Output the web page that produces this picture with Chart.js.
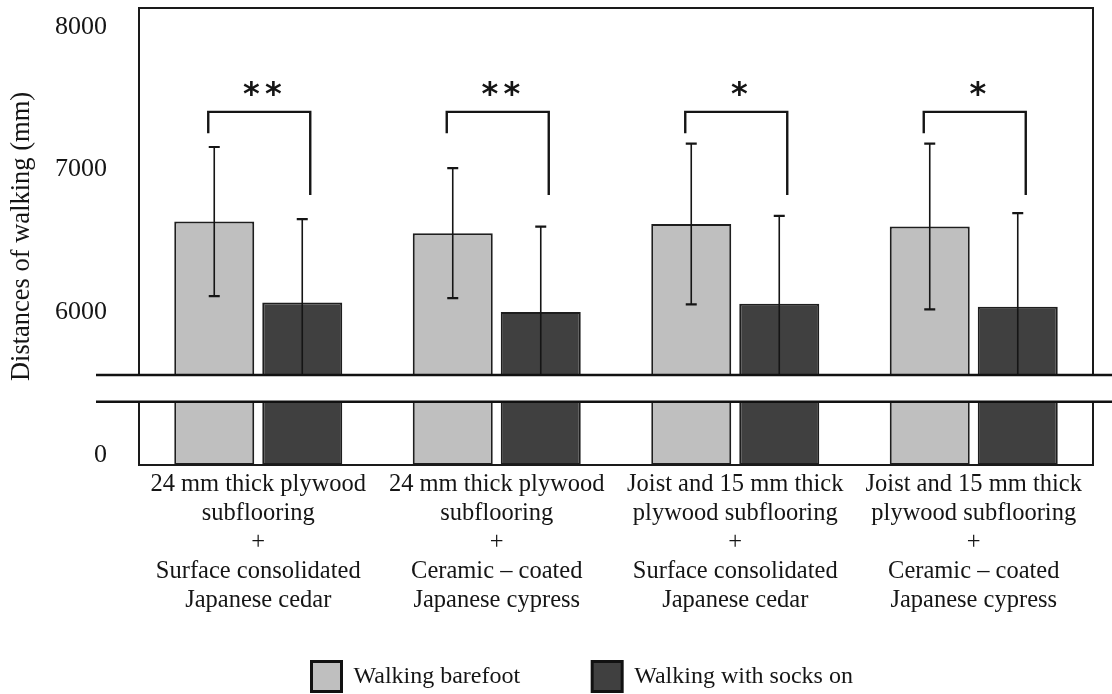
<!DOCTYPE html>
<html>
<head>
<meta charset="utf-8">
<script src="https://cdn.jsdelivr.net/npm/chart.js@4.4.1/dist/chart.umd.min.js"></script>
<style>
  html, body { margin: 0; padding: 0; background: #ffffff; }
  #c { display: block; }
</style>
</head>
<body>
<canvas id="c" width="1112" height="694"></canvas>
<script>
// ---- data ----
const categories = [
  ['24 mm thick plywood', 'subflooring', '+', 'Surface consolidated', 'Japanese cedar'],
  ['24 mm thick plywood', 'subflooring', '+', 'Ceramic \u2013 coated', 'Japanese cypress'],
  ['Joist and 15 mm thick', 'plywood subflooring', '+', 'Surface consolidated', 'Japanese cedar'],
  ['Joist and 15 mm thick', 'plywood subflooring', '+', 'Ceramic \u2013 coated', 'Japanese cypress']
];
const seriesNames = ['Walking barefoot', 'Walking with socks on'];
const barefootMean = [6579, 6497, 6561, 6544];
const barefootSD = [524, 457, 565, 582];
const socksMean = [6010, 5943, 6001, 5980];
const socksSD = [586, 600, 618, 658];
const significance = ['**', '**', '*', '*'];
const yTickValues = [0, 6000, 7000, 8000];

// ---- look ----
const SERIF = "'Liberation Serif', 'Times New Roman', serif";
const INK = '#151515';
const bracketSpec = { top: 7350, leftEnd: 7200, rightEnd: 6765, markCenter: 7527, halfWidth: 51, shift: 1 };
const legendSpec = { padding: 72, firstBoxX: 311.5, boxTop: 661.5, boxSize: 30 };

// Linear scale with an axis break: a short segment near zero at the bottom,
// a gap, then the main segment for the upper value range.
class BrokenLinearScale extends Chart.LinearScale {
  static id = 'brokenLinear';
  static defaults = {};
  segments() {
    const b = this.options.broken;
    const h = this.bottom - this.top;
    const lowTop = this.bottom - h * b.lowerFrac;
    const upBottom = lowTop - h * b.gapFrac;
    return { b, lowTop, upBottom };
  }
  getPixelForValue(value) {
    const { b, lowTop, upBottom } = this.segments();
    if (value <= b.lowerMax) {
      return this.bottom - (value - this.min) / (b.lowerMax - this.min) * (this.bottom - lowTop);
    }
    if (value >= b.upperMin) {
      return upBottom - (value - b.upperMin) / (this.max - b.upperMin) * (upBottom - this.top);
    }
    return lowTop - (value - b.lowerMax) / (b.upperMin - b.lowerMax) * (lowTop - upBottom);
  }
  getValueForPixel(pixel) {
    const { b, lowTop, upBottom } = this.segments();
    if (pixel >= lowTop) {
      return this.min + (this.bottom - pixel) / (this.bottom - lowTop) * (b.lowerMax - this.min);
    }
    if (pixel <= upBottom) {
      return b.upperMin + (upBottom - pixel) / (upBottom - this.top) * (this.max - b.upperMin);
    }
    return b.lowerMax + (lowTop - pixel) / (lowTop - upBottom) * (b.upperMin - b.lowerMax);
  }
  getPixelForTick(index) {
    const v = this.ticks[index].value;
    const b = this.options.broken;
    return this.getPixelForValue(v) + (v <= b.lowerMax ? b.labelShift.lower : b.labelShift.upper);
  }
}
Chart.register(BrokenLinearScale);

// Error bars, frame, significance brackets and the break band.
const overlayPlugin = {
  id: 'overlay',
  afterLayout(chart) {
    // place the legend row under the category labels
    const lg = chart.legend;
    if (!lg || !lg.lineWidths) return;
    const p = legendSpec.padding;
    const x1 = (lg.left + p + lg.right - lg.lineWidths[0]) / 2;
    const dx = legendSpec.firstBoxX - x1;
    lg.left += dx;
    lg.right += dx;
    lg.top = legendSpec.boxTop - p;
    lg.bottom = Math.min(chart.height, legendSpec.boxTop + legendSpec.boxSize + 4);
    lg.height = lg.bottom - lg.top;
  },
  afterDatasetsDraw(chart) {
    const { ctx, chartArea: a, scales: { x, y } } = chart;
    const spreads = [barefootSD, socksSD];
    ctx.save();
    ctx.strokeStyle = INK;
    ctx.lineCap = 'butt';

    chart.data.datasets.forEach((ds, di) => {
      const meta = chart.getDatasetMeta(di);
      meta.data.forEach((bar, i) => {
        const m = ds.data[i];
        const s = spreads[di][i];
        const yt = y.getPixelForValue(m + s);
        const yb = y.getPixelForValue(m - s);
        ctx.lineWidth = 1.6;
        ctx.beginPath();
        ctx.moveTo(bar.x, yt);
        ctx.lineTo(bar.x, yb);
        ctx.stroke();
        ctx.lineWidth = 2.2;
        ctx.beginPath();
        ctx.moveTo(bar.x - 5.5, yt); ctx.lineTo(bar.x + 5.5, yt);
        ctx.moveTo(bar.x - 5.5, yb); ctx.lineTo(bar.x + 5.5, yb);
        ctx.stroke();
      });
    });

    // plot frame
    ctx.lineWidth = 2;
    ctx.strokeStyle = '#1a1a1a';
    ctx.strokeRect(a.left, a.top, a.right - a.left, a.bottom - a.top);

    // significance brackets
    ctx.strokeStyle = INK;
    ctx.lineWidth = 2.4;
    ctx.fillStyle = INK;
    const starSize = 32;
    ctx.font = "bold " + starSize + "px 'DejaVu Sans', sans-serif";
    ctx.textAlign = 'center';
    ctx.textBaseline = 'alphabetic';
    significance.forEach((mark, i) => {
      const cx = x.getPixelForValue(i) + bracketSpec.shift;
      const l = cx - bracketSpec.halfWidth, r = cx + bracketSpec.halfWidth;
      ctx.beginPath();
      ctx.moveTo(l, y.getPixelForValue(bracketSpec.leftEnd));
      ctx.lineTo(l, y.getPixelForValue(bracketSpec.top));
      ctx.lineTo(r, y.getPixelForValue(bracketSpec.top));
      ctx.lineTo(r, y.getPixelForValue(bracketSpec.rightEnd));
      ctx.stroke();
      const cy = y.getPixelForValue(bracketSpec.markCenter) + 0.545 * starSize;
      const n = mark.length;
      for (let k = 0; k < n; k++) {
        ctx.fillText('*', cx + 3 + (k - (n - 1) / 2) * 22, cy);
      }
    });

    // axis break
    const { lowTop, upBottom } = y.segments();
    ctx.fillStyle = '#ffffff';
    ctx.fillRect(a.left - 45, upBottom, chart.width, lowTop - upBottom);
    ctx.strokeStyle = '#111111';
    ctx.lineWidth = 2.5;
    ctx.beginPath();
    ctx.moveTo(a.left - 43, upBottom); ctx.lineTo(chart.width, upBottom);
    ctx.moveTo(a.left - 43, lowTop); ctx.lineTo(chart.width, lowTop);
    ctx.stroke();
    ctx.restore();
  }
};

new Chart(document.getElementById('c'), {
  type: 'bar',
  data: {
    labels: categories,
    datasets: [
      {
        label: seriesNames[0],
        data: barefootMean,
        backgroundColor: '#bfbfbf',
        borderColor: '#1e1e1e',
        borderWidth: 2,
        borderSkipped: false,
        barPercentage: 0.909,
        categoryPercentage: 0.738
      },
      {
        label: seriesNames[1],
        data: socksMean,
        backgroundColor: '#404040',
        borderColor: '#1e1e1e',
        borderWidth: 2,
        borderSkipped: false,
        barPercentage: 0.909,
        categoryPercentage: 0.738
      }
    ]
  },
  options: {
    responsive: false,
    animation: false,
    events: [],
    layout: { padding: { top: 8, right: 19, bottom: 0, left: 0 } },
    scales: {
      x: {
        grid: { display: false, drawTicks: false },
        border: { display: false },
        ticks: {
          color: INK,
          font: { family: SERIF, size: 24.5, lineHeight: 1.18 },
          padding: 5.5,
          maxRotation: 0,
          autoSkip: false
        },
        afterFit(scale) {
          scale.height = 189;
          scale.paddingLeft = 0;
          scale.paddingRight = 0;
        }
      },
      y: {
        type: 'brokenLinear',
        min: 0,
        max: 8080,
        bounds: 'data',
        broken: {
          lowerMax: 500,
          upperMin: 5500,
          lowerFrac: 0.1385,
          gapFrac: 0.0584,
          labelShift: { lower: -10, upper: 8 }
        },
        grid: { display: false, drawTicks: false },
        border: { display: false },
        afterBuildTicks(scale) {
          scale.ticks = yTickValues.map(v => ({ value: v }));
        },
        ticks: {
          autoSkip: false,
          color: INK,
          font: { family: SERIF, size: 26 },
          padding: 32,
          callback: v => String(v)
        },
        title: {
          display: true,
          text: 'Distances of walking (mm)',
          color: INK,
          font: { family: SERIF, size: 26.5, lineHeight: 1.2 },
          padding: { top: 6, bottom: 0 }
        },
        afterFit(scale) {
          scale.width = 139;
          scale.paddingTop = 0;
          scale.paddingBottom = 0;
        }
      }
    },
    plugins: {
      tooltip: { enabled: false },
      legend: {
        position: 'bottom',
        maxHeight: 40,
        labels: {
          boxWidth: legendSpec.boxSize,
          boxHeight: legendSpec.boxSize,
          padding: legendSpec.padding,
          color: INK,
          font: { family: SERIF, size: 24 },
          generateLabels(chart) {
            const items = Chart.defaults.plugins.legend.labels.generateLabels(chart);
            items.forEach(it => { it.lineWidth = 3; it.strokeStyle = '#111111'; });
            return items;
          }
        }
      }
    }
  },
  plugins: [overlayPlugin]
});
</script>
</body>
</html>
